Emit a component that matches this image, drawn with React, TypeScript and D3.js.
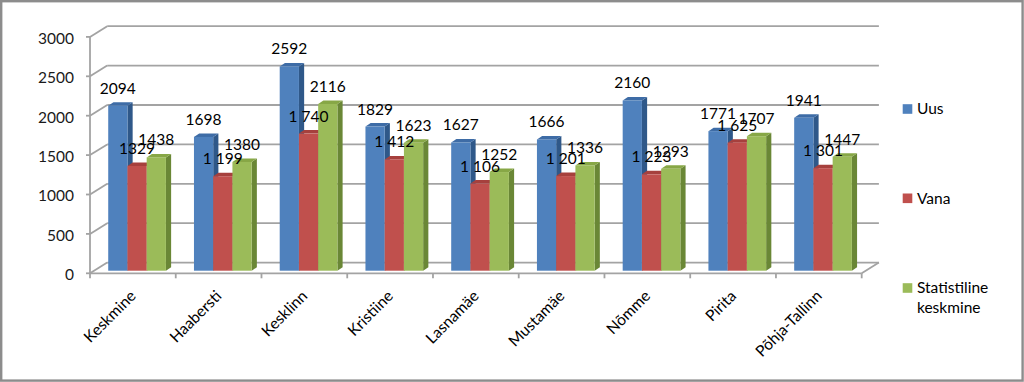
import React from "react";
import * as d3 from "d3";

const categories = ["Keskmine", "Haabersti", "Kesklinn", "Kristiine", "Lasnamäe", "Mustamäe", "Nõmme", "Pirita", "Põhja-Tallinn"];
const uus = [2094, 1698, 2592, 1829, 1627, 1666, 2160, 1771, 1941];
const vana = [1329, 1199, 1740, 1412, 1106, 1201, 1223, 1625, 1301];
const vanaLabels = ["1329", "1 199", "1 740", "1 412", "1 106", "1 201", "1 223", "1 625", "1 301"];
const stat = [1438, 1380, 2116, 1623, 1252, 1336, 1293, 1707, 1447];
const uusLabels = uus.map(String);
const statLabels = stat.map(String);
const yTicks = [0, 500, 1000, 1500, 2000, 2500, 3000];
const seriesNames = ["Uus", "Vana", "Statistiline keskmine"];

const W = 1024, H = 382;
const FONT = "Lato, 'Open Sans', sans-serif";
const FS = 15.5;

const faceColors = [
  { front: "#4F81BD", top: "#3e6ca6", side: "#2f5889" },
  { front: "#C0504D", top: "#a6403d", side: "#8a3431" },
  { front: "#9BBB59", top: "#87a746", side: "#6a8736" },
];

export default function App() {
  const x0 = 90, x1 = 861.7;
  const depth = { dx: 17.2, dy: -10.7 };
  const barPlane = { dx: 4.2, dy: -2.6 };
  const barDepth = { dx: 5.2, dy: -3.5 };
  const y = d3.scaleLinear().domain([0, 3000]).range([273.3, 36.9]);
  const xb = d3.scaleBand<string>().domain(categories).range([x0, x1]).padding(0);
  const groupW = 57.7;
  const series = [
    { vals: uus, labels: uusLabels },
    { vals: vana, labels: vanaLabels },
    { vals: stat, labels: statLabels },
  ];
  const gridColor = "#a3a3a3";

  const bars: React.ReactNode[] = [];
  const labels: React.ReactNode[] = [];
  categories.forEach((c, ci) => {
    const center = (xb(c) as number) + xb.bandwidth() / 2 + barPlane.dx;
    const xs = d3.scaleBand<number>().domain([0, 1, 2]).range([center - groupW / 2, center + groupW / 2]).padding(0);
    series.forEach((s, si) => {
      const v = s.vals[ci];
      const bx = xs(si) as number;
      const bw = xs.bandwidth();
      const top = y(v) + barPlane.dy;
      const bot = y(0) + barPlane.dy;
      const col = faceColors[si];
      const { dx, dy } = barDepth;
      bars.push(
        <g key={`b${ci}-${si}`}>
          <polygon points={`${bx + bw},${bot} ${bx + bw + dx},${bot + dy} ${bx + bw + dx},${top + dy} ${bx + bw},${top}`} fill={col.side} />
          <polygon points={`${bx},${top} ${bx + dx},${top + dy} ${bx + bw + dx},${top + dy} ${bx + bw},${top}`} fill={col.top} />
          <rect x={bx} y={top} width={bw} height={bot - top} fill={col.front} />
        </g>
      );
      labels.push(
        <text key={`l${ci}-${si}`} x={bx + bw / 2} y={top - 12} textAnchor="middle" fontSize={FS} fontFamily={FONT} fill="#000">
          {s.labels[ci]}
        </text>
      );
    });
  });

  return (
    <svg width={W} height={H} style={{ position: "absolute", left: 0, top: 0, background: "#fff" }}>
      <rect x={1.2} y={1.2} width={W - 2.6} height={H - 2.6} fill="#fff" stroke="#8c8c8c" strokeWidth={2.4} />
      {/* back wall gridlines */}
      {yTicks.map((t) => (
        <line key={`g${t}`} x1={x0 + depth.dx} x2={x1 + depth.dx} y1={y(t) + depth.dy} y2={y(t) + depth.dy} stroke={gridColor} strokeWidth={1.8} />
      ))}
      {/* left wall diagonals */}
      {yTicks.map((t) => (
        <line key={`d${t}`} x1={x0} x2={x0 + depth.dx} y1={y(t)} y2={y(t) + depth.dy} stroke={gridColor} strokeWidth={1.8} />
      ))}
      {/* floor */}
      <line x1={x0} x2={x1} y1={y(0)} y2={y(0)} stroke={gridColor} strokeWidth={1.8} />
      <line x1={x1} x2={x1 + depth.dx} y1={y(0)} y2={y(0) + depth.dy} stroke={gridColor} strokeWidth={1.8} />
      {/* x ticks */}
      {categories.map((c) => (
        <line key={`xt${c}`} x1={xb(c) as number} x2={xb(c) as number} y1={y(0)} y2={y(0) + 5} stroke={gridColor} strokeWidth={1.8} />
      ))}
      <line x1={x1} x2={x1} y1={y(0)} y2={y(0) + 5} stroke={gridColor} strokeWidth={1.8} />
      {/* y axis */}
      <line x1={x0} x2={x0} y1={y(3000)} y2={y(0)} stroke={gridColor} strokeWidth={1.8} />
      {yTicks.map((t) => (
        <g key={`yt${t}`}>
          <line x1={x0 - 4} x2={x0} y1={y(t)} y2={y(t)} stroke={gridColor} strokeWidth={1.8} />
          <text x={74} y={y(t) + 1.5} dy="0.35em" textAnchor="end" fontSize={FS} fontFamily={FONT} fill="#1a1a1a">
            {t}
          </text>
        </g>
      ))}
      {bars}
      {labels}
      {/* category labels */}
      {categories.map((c) => {
        const cx = (xb(c) as number) + xb.bandwidth() / 2 + 4;
        return (
          <text key={`c${c}`} transform={`translate(${cx},${297}) rotate(-45)`} textAnchor="end" fontSize={FS} fontFamily={FONT} fill="#000">
            {c}
          </text>
        );
      })}
      {/* legend */}
      {[
        { i: 0, y: 109, lines: ["Uus"] },
        { i: 1, y: 198.3, lines: ["Vana"] },
        { i: 2, y: 288, lines: ["Statistiline", "keskmine"] },
      ].map((it) => (
        <g key={`lg${it.i}`}>
          <rect x={902.7} y={it.y - 4.8} width={9.6} height={9.6} fill={faceColors[it.i].front} />
          <text x={917} y={it.y} dy="0.35em" fontSize={FS} fontFamily={FONT} fill="#000">
            {it.lines.map((ln, k) => (
              <tspan key={k} x={917} dy={k === 0 ? "0.35em" : 20}>
                {ln}
              </tspan>
            ))}
          </text>
        </g>
      ))}
    </svg>
  );
}
